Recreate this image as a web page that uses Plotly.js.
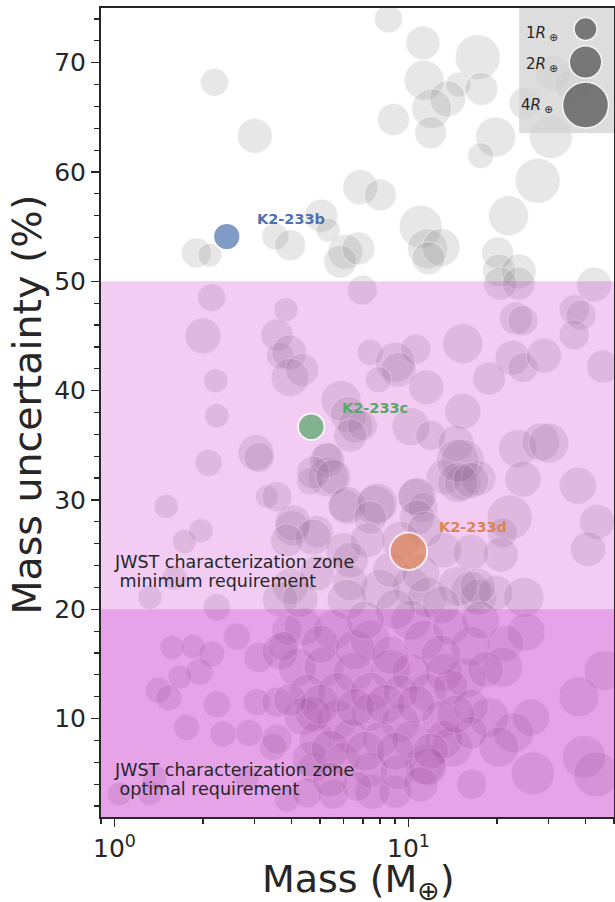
<!DOCTYPE html>
<html>
<head>
<meta charset="utf-8">
<script src="https://cdn.plot.ly/plotly-3.0.1.min.js"></script>
<style>html,body{margin:0;padding:0;background:#fff;}#chart{width:615px;height:902px;}</style>
</head>
<body>
<div id="chart"></div>
<script>
// ---- data ----
const sampleMass = [2.19,3.00,1.90,2.11,3.52,3.96,5.05,5.33,6.10,5.86,6.75,6.86,8.02,8.55,11.2,17.2,11.3,14.8,17.7,13.6,12.0,8.89,11.9,19.8,17.6,30.5,24.9,31.0,36.6,27.5,21.9,11.0,11.6,12.9,11.7,20.1,20.3,23.7,42.8,2.14,2.00,3.83,3.57,3.66,3.93,4.35,3.96,2.21,2.23,5.90,6.24,3.03,3.10,2.09,5.29,5.33,4.63,6.10,3.30,1.50,1.97,4.02,4.89,1.73,6.97,6.59,6.97,6.34,20.5,23.7,23.2,24.5,36.6,38.6,36.6,15.3,10.6,7.41,9.03,9.25,7.90,11.5,22.6,24.5,28.9,18.8,45.9,15.3,10.2,11.9,14.5,15.3,13.2,15.3,17.3,23.5,28.2,30.0,24.5,37.7,43.8,22.1,20.9,7.71,10.6,11.2,1.32,1.60,2.23,2.61,1.57,1.85,2.14,1.95,1.67,1.41,1.53,2.23,3.05,1.76,2.34,2.87,3.46,3.10,3.66,3.86,1.04,1.32,1.37,2.82,4.74,5.55,3.86,40.8,20.6,16.3,17.3,24.7,19.8,25.1,21.4,20.9,15.7,46.3,38.0,26.1,22.8,18.8,20.3,14.1,39.5,43.5,26.5,16.4,11.4,9.03,7.54,5.29,4.74,5.55,6.19,7.84,7.41,10.7,10.7,14.7,14.7,16.3,4.05,4.74,6.00,7.25,13.2,16.3,3.57,3.86,3.96,4.89,6.34,8.02,10.2,11.6,14.7,17.2,8.68,11.0,3.66,6.19,4.38,5.55,7.41,10.2,11.3,13.9,16.3,4.18,5.16,6.49,8.68,10.2,13.2,4.52,5.72,7.41,9.39,11.6,13.9,4.38,5.72,7.41,9.39,12.9,16.3,4.89,6.34,8.02,10.2,13.2,16.3,4.63,6.00,7.41,9.17,11.6,6.70,4.52,3.57,3.57,3.75,4.74,5.01,6.59,8.68,12.9,5.01,6.59,8.35,10.6,14.5,5.42,7.13,9.03,11.9,5.42,11.0,4.28,9.03,12.9,7.13,3.96,18.3,17.6,6.34,9.39,11.4];
const sampleUnc = [68.2,63.3,52.6,52.4,54.1,53.3,56.0,54.7,52.7,51.8,53.0,58.6,57.9,74.0,71.8,70.5,68.4,68.0,67.6,66.7,65.8,64.8,63.6,63.2,61.5,63.2,66.3,69.0,67.8,59.2,56.0,55.0,53.0,53.1,52.1,52.6,51.0,50.9,49.7,48.5,45.0,47.4,45.1,43.2,43.5,41.9,41.2,40.9,37.7,39.1,37.8,34.3,33.9,33.4,33.9,32.1,31.7,29.5,30.3,29.4,27.2,27.4,27.1,26.2,49.2,36.8,36.8,35.9,49.8,49.8,46.6,46.4,47.4,46.9,45.1,44.3,43.8,43.5,42.6,41.9,41.0,40.3,43.0,42.1,43.2,41.1,42.2,38.1,36.7,35.9,35.2,33.6,32.1,31.6,32.0,34.7,35.3,35.2,31.9,31.3,28.0,28.4,27.0,29.5,30.3,29.3,21.1,22.9,20.2,17.5,16.5,16.6,15.9,14.3,13.8,12.6,11.9,11.3,11.5,9.2,8.6,8.7,7.4,15.6,16.1,18.1,3.1,3.2,4.6,4.6,5.5,3.1,2.6,25.5,25.0,21.6,21.1,21.1,21.5,17.9,16.9,14.7,13.7,14.4,12.0,10.1,8.7,10.1,7.4,7.4,6.5,4.9,5.0,4.0,5.8,3.3,3.3,33.6,32.5,32.1,29.5,29.7,28.4,30.3,28.4,33.6,31.6,31.8,27.9,26.6,25.4,26.3,25.4,25.2,30.3,26.3,22.1,23.3,22.4,21.8,22.1,21.1,22.1,22.1,23.6,23.3,20.9,20.9,18.4,18.1,17.2,19.0,17.2,18.4,16.6,14.7,14.7,14.2,14.5,14.2,14.2,12.4,12.4,12.4,12.4,12.4,12.9,10.2,9.9,10.6,9.6,9.9,11.1,8.1,8.4,8.1,8.1,8.1,8.7,6.3,6.3,5.3,5.1,5.6,3.8,3.2,8.1,11.5,16.6,10.4,16.8,16.3,15.8,15.8,11.3,11.0,11.3,11.3,10.4,7.2,7.0,7.0,7.0,4.4,4.0,20.9,20.0,20.4,19.0,11.7,14.5,19.0,24.5,26.3,27.3];
const sampleRadius = [1.48,2.32,1.70,1.09,1.38,1.82,2.06,1.09,2.32,2.06,2.06,2.32,1.94,1.48,2.19,3.83,3.02,1.18,2.06,2.45,3.02,1.94,1.94,3.02,1.28,3.50,1.94,2.32,2.59,3.83,3.02,3.50,3.02,2.73,2.06,1.94,2.06,2.32,2.32,1.48,2.45,1.09,1.94,1.38,2.32,2.06,2.73,1.09,1.09,3.02,2.45,2.45,1.70,1.38,1.70,3.02,1.38,2.06,1.00,1.09,1.09,2.32,1.94,1.09,1.70,2.32,1.70,2.06,2.06,2.06,2.06,1.70,1.70,1.70,1.70,3.02,1.70,1.28,3.02,2.32,1.28,2.32,2.32,1.70,2.32,2.06,2.06,2.45,2.73,1.70,2.45,3.50,2.32,2.45,2.32,2.73,2.73,3.02,2.45,2.59,2.32,3.83,1.70,3.02,2.45,1.70,1.09,1.18,1.38,1.38,1.09,1.09,1.28,1.38,1.09,1.28,1.28,1.38,1.38,1.28,1.28,1.38,1.38,1.70,2.45,1.70,1.09,1.18,1.18,1.09,1.70,1.70,1.18,2.32,2.32,3.02,2.45,3.02,2.32,2.73,2.45,3.02,3.02,3.02,3.02,2.59,3.02,3.02,3.02,3.02,3.50,3.83,3.50,1.70,3.02,2.06,2.32,2.32,2.06,2.32,2.73,3.02,2.06,2.73,2.32,3.50,3.02,2.45,2.45,2.45,2.32,2.32,2.32,2.45,1.70,2.06,2.45,2.32,2.32,3.02,2.73,3.02,3.02,2.45,2.32,2.73,2.32,3.02,2.73,3.02,3.02,3.02,3.02,2.45,3.02,2.73,3.02,3.02,3.02,2.73,2.73,2.45,3.02,3.02,2.32,2.73,2.32,2.73,3.02,2.73,2.73,2.73,2.32,2.45,2.32,2.45,2.73,2.73,2.06,2.45,2.06,2.32,2.32,2.73,1.70,1.70,1.70,1.70,1.70,2.45,2.73,3.02,2.73,3.02,3.02,2.73,3.02,2.73,2.73,2.73,3.02,2.73,2.45,2.32,2.32,2.45,3.02,2.73,2.73,2.06,2.45,2.73,2.45,2.73,2.45];

const planetNames = ["K2-233b", "K2-233c", "K2-233d"];
const planetMass = [2.41, 4.67, 10.0];
const planetUnc = [54.1, 36.7, 25.3];
const planetRadius = [1.40, 1.34, 2.65];

const zoneLower = [0, 0];
const zoneUpper = [50, 20];
const zoneTitles = ["JWST characterization zone", "JWST characterization zone"];
const zoneSubtitles = ["\u00a0minimum requirement", "\u00a0optimal requirement"];

const legendRadius = [1, 2, 4];
const legendLabels = ["1<i>R</i><sub> ⊕</sub>", "2<i>R</i><sub> ⊕</sub>", "4<i>R</i><sub> ⊕</sub>"];

const xTickVals = [1, 10];
const xTickText = ["10<sup>0</sup>", "10<sup>1</sup>"];
const xMinorVals = [0.9, 2, 3, 4, 5, 6, 7, 8, 9, 20, 30, 40, 50];
const xLimits = [0.9, 50];
const yLimits = [1, 75];
const xTitle = 'Mass (M<sub>⊕</sub>)';
const yTitle = 'Mass uncertainty (%)';

// ---- styling ----
const INK = '#262626';
const planetColors = ['#4c72b0', '#55a868', '#dd8452'];
const SIZEREF = 2 / (23 * 23);
const labelShift = [[28, 17], [29, 19], [29, 24]];

const traces = [];
traces.push({
  type: 'scatter', mode: 'markers', x: sampleMass, y: sampleUnc,
  hoverinfo: 'skip', showlegend: false,
  marker: { size: sampleRadius, sizemode: 'area', sizeref: SIZEREF,
            color: 'rgba(128,128,128,0.27)',
            line: { color: 'rgba(255,255,255,0.55)', width: 1.2 } }
});
for (let i = 0; i < zoneLower.length; i++) {
  traces.push({
    type: 'scatter', mode: 'lines', showlegend: false, hoverinfo: 'skip',
    x: [xLimits[0], xLimits[1], xLimits[1], xLimits[0], xLimits[0]],
    y: [zoneLower[i], zoneLower[i], zoneUpper[i], zoneUpper[i], zoneLower[i]],
    fill: 'toself', fillcolor: 'rgba(191,0,191,0.2)', line: { width: 0 }
  });
}
traces.push({
  type: 'scatter', mode: 'markers', x: planetMass, y: planetUnc, text: planetNames,
  hoverinfo: 'text', showlegend: false,
  marker: { size: planetRadius, sizemode: 'area', sizeref: SIZEREF,
            color: planetColors, line: { color: 'white', width: 2 } }
});
// legend panel (separate small subplot)
traces.push({
  type: 'scatter', mode: 'lines', xaxis: 'x2', yaxis: 'y2', showlegend: false, hoverinfo: 'skip',
  x: [0, 1, 1, 0, 0], y: [0, 0, 1, 1, 0], fill: 'toself',
  fillcolor: 'rgba(210,210,210,0.75)', line: { width: 0 }
});
traces.push({
  type: 'scatter', mode: 'markers', xaxis: 'x2', yaxis: 'y2', showlegend: false, hoverinfo: 'skip',
  x: [0.7, 0.7, 0.7], y: [0.832, 0.568, 0.224], cliponaxis: false,
  marker: { size: legendRadius, sizemode: 'area', sizeref: SIZEREF,
            color: '#4d4d4d', line: { color: 'white', width: 1.5 } }
});

const annotations = [];
for (let i = 0; i < planetNames.length; i++) {
  annotations.push({
    x: Math.log10(planetMass[i]), y: planetUnc[i], xref: 'x', yref: 'y',
    text: '<b>' + planetNames[i] + '</b>', showarrow: false,
    xanchor: 'left', yanchor: 'middle', xshift: labelShift[i][0], yshift: labelShift[i][1],
    font: { family: 'DejaVu Sans', size: 14.5, color: planetColors[i] }
  });
}
const zoneTextY = [[24.3, 22.6], [5.34, 3.52]];
for (let i = 0; i < zoneTitles.length; i++) {
  annotations.push({ x: 0, y: zoneTextY[i][0], xref: 'x', yref: 'y', text: zoneTitles[i],
    showarrow: false, xanchor: 'left', yanchor: 'middle', xshift: -2,
    font: { family: 'DejaVu Sans', size: 17.5, color: INK } });
  annotations.push({ x: 0, y: zoneTextY[i][1], xref: 'x', yref: 'y', text: zoneSubtitles[i],
    showarrow: false, xanchor: 'left', yanchor: 'middle', xshift: -2,
    font: { family: 'DejaVu Sans', size: 17.5, color: INK } });
}
const legendTextPos = [[0.43, 0.80], [0.43, 0.545], [0.38, 0.22]];
for (let i = 0; i < legendLabels.length; i++) {
  annotations.push({ x: legendTextPos[i][0], y: legendTextPos[i][1], xref: 'x2', yref: 'y2',
    text: legendLabels[i], showarrow: false, xanchor: 'right', yanchor: 'middle',
    font: { family: 'DejaVu Sans', size: 15, color: INK } });
}
// axis titles
annotations.push({ x: 0.5, y: 0, xref: 'paper', yref: 'paper', text: xTitle, showarrow: false,
  xanchor: 'center', yanchor: 'middle', yshift: -64,
  font: { family: 'DejaVu Sans', size: 38, color: INK } });
annotations.push({ x: 0, y: 0.5, xref: 'paper', yref: 'paper', text: yTitle, showarrow: false,
  textangle: -90, xanchor: 'center', yanchor: 'middle', xshift: -75, yshift: 8,
  font: { family: 'DejaVu Sans', size: 39.5, color: INK } });

const layout = {
  width: 615, height: 902,
  margin: { l: 101, r: 1, t: 8, b: 85 },
  paper_bgcolor: 'white', plot_bgcolor: 'rgba(0,0,0,0)',
  font: { family: 'DejaVu Sans', color: INK },
  showlegend: false,
  xaxis: {
    type: 'log', range: [Math.log10(xLimits[0]), Math.log10(xLimits[1])],
    tickmode: 'array', tickvals: xTickVals, ticktext: xTickText,
    ticks: 'outside', ticklen: 8, tickwidth: 1.5, tickcolor: INK,
    tickfont: { size: 25, color: INK },
    minor: { tickmode: 'array', tickvals: xMinorVals, ticks: 'outside', ticklen: 5, tickwidth: 1.2, tickcolor: INK, showgrid: false },
    showgrid: false, zeroline: false, showline: true, mirror: true, linecolor: INK, linewidth: 2,
    automargin: false
  },
  yaxis: {
    range: yLimits, tickmode: 'linear', tick0: 0, dtick: 10,
    ticks: 'outside', ticklen: 8, tickwidth: 1.5, tickcolor: INK,
    tickfont: { size: 25, color: INK },
    minor: { dtick: 2, tick0: 0, ticks: 'outside', ticklen: 5, tickwidth: 1.2, tickcolor: INK, showgrid: false },
    showgrid: false, zeroline: false, showline: true, mirror: true, linecolor: INK, linewidth: 2,
    automargin: false
  },
  xaxis2: { domain: [0.815, 1], range: [0, 1], anchor: 'y2', visible: false, fixedrange: true },
  yaxis2: { domain: [0.8455, 1], range: [0, 1], anchor: 'x2', visible: false, fixedrange: true },
  annotations: annotations
};

Plotly.newPlot('chart', traces, layout, { displayModeBar: false, staticPlot: true });
</script>
</body>
</html>
